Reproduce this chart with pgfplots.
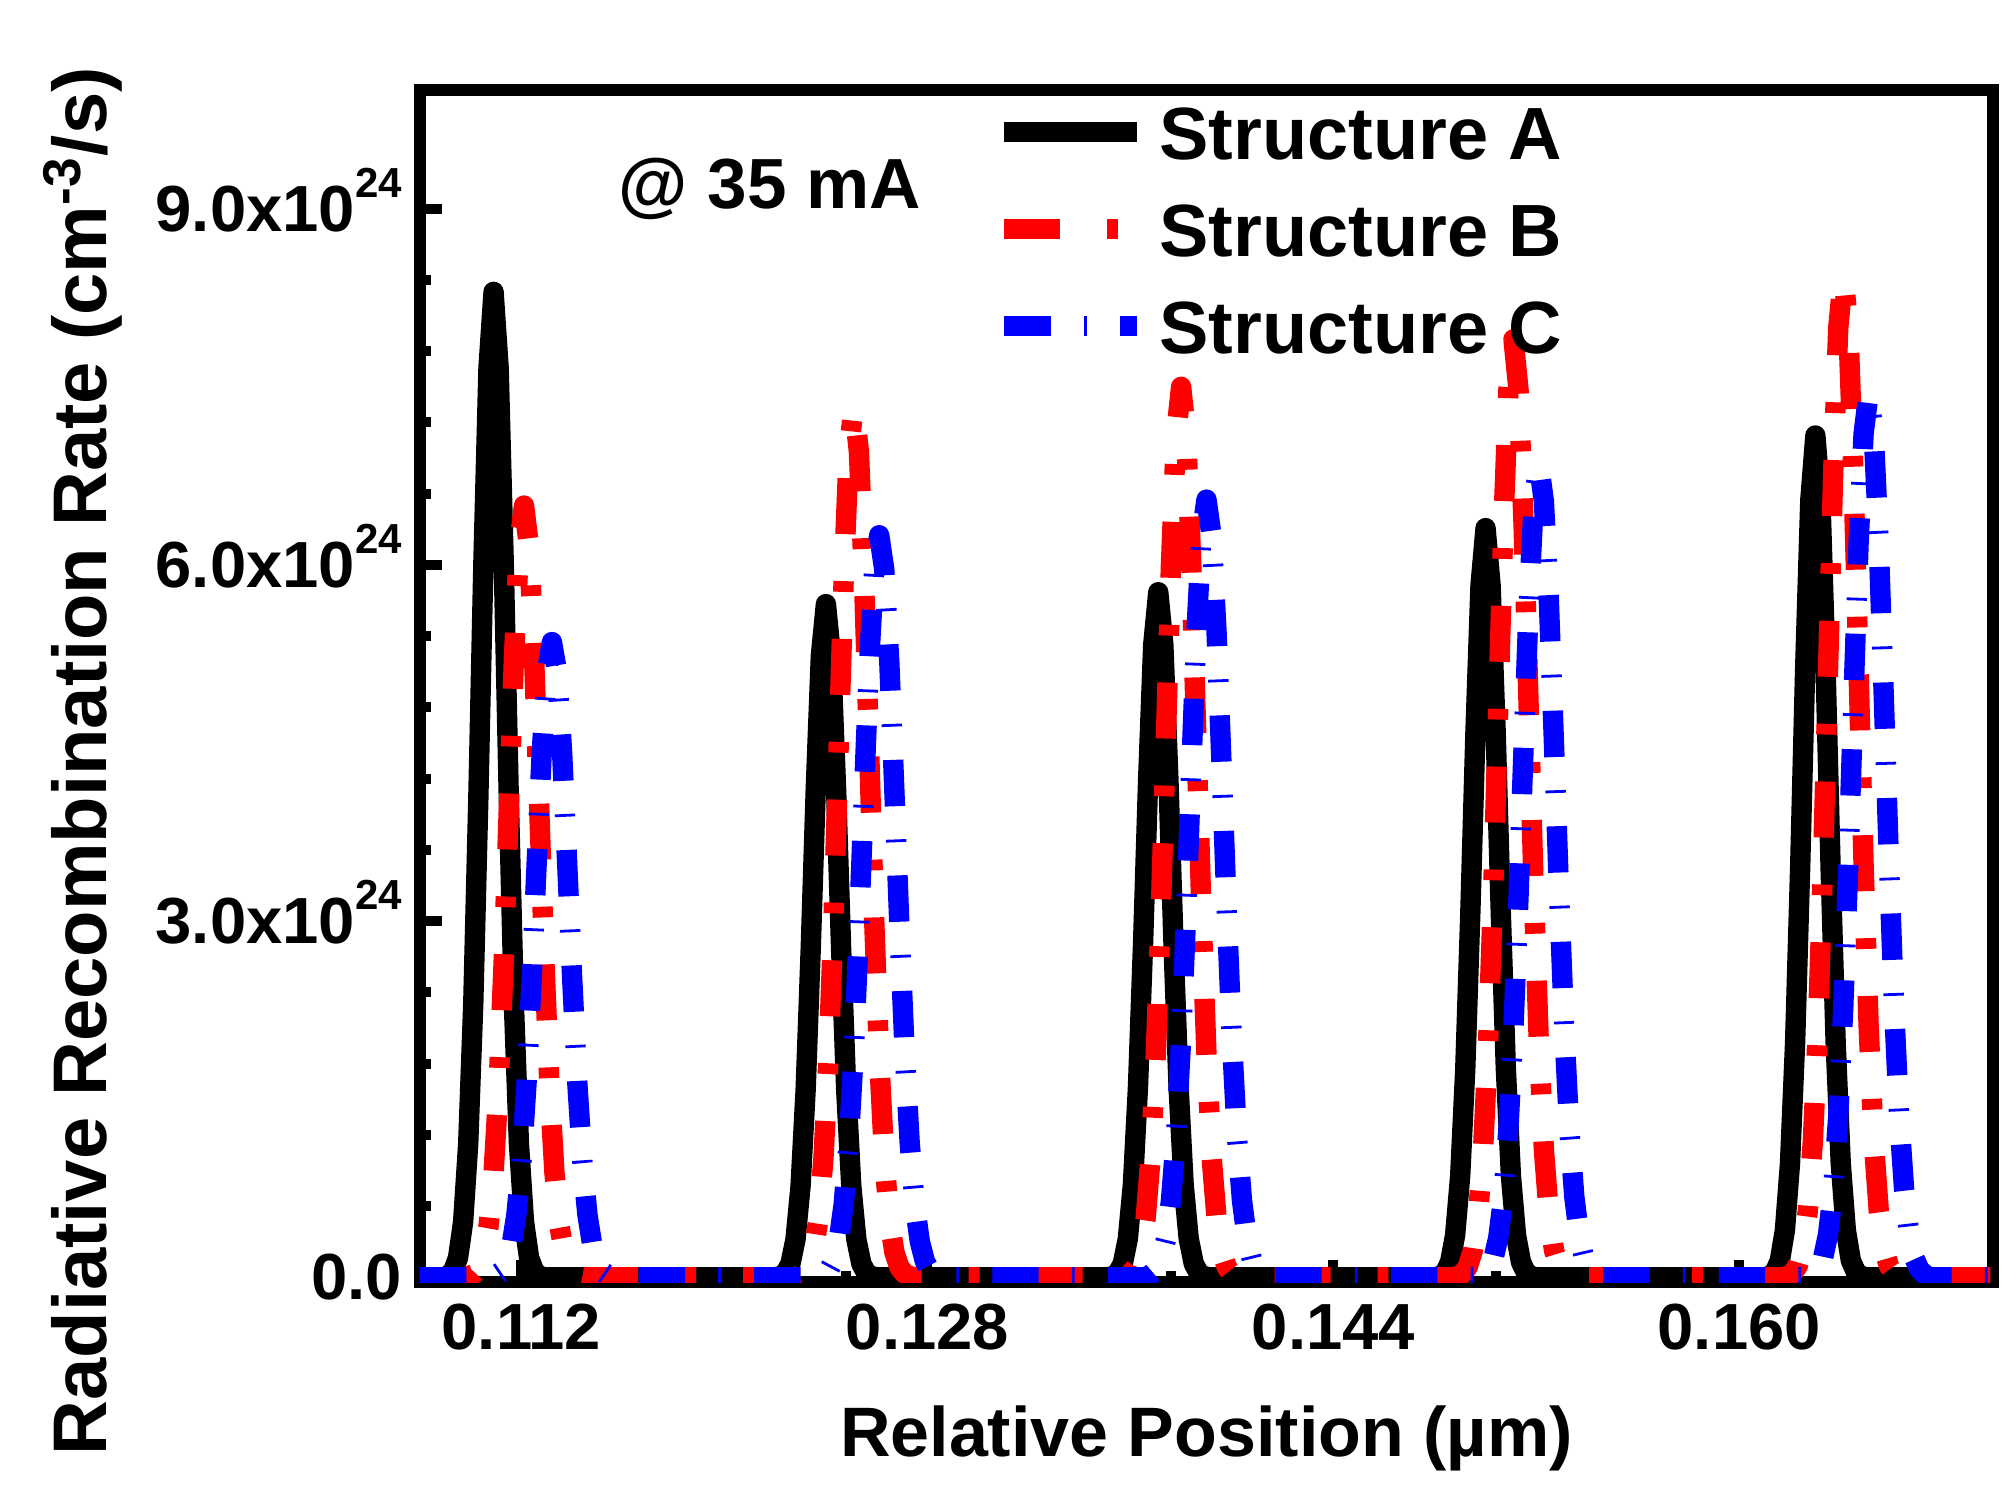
\documentclass[border=0pt]{standalone}
\usepackage{pgfplots}
\pgfplotsset{compat=1.18}
\usepackage{fontspec}
\setmainfont{Liberation Sans}
\definecolor{strB}{RGB}{255,0,0}
\definecolor{strC}{RGB}{0,0,255}

% y values are in units of 1e24 cm^-3/s
\begin{document}
\begin{tikzpicture}
\useasboundingbox (-105pt,-52pt) rectangle (399pt,320.5pt);
\begin{axis}[
    scale only axis,
    width=393.25pt, height=298pt,
    xmin=0.108, xmax=0.170,
    ymin=-0.04, ymax=10,
    xtick={0.112,0.128,0.144,0.160},
    xticklabels={0.112,0.128,0.144,0.160},
    minor x tick num=4,
    ytick={0,3,6,9},
    yticklabels={0.0,
      3.0x10\smash{\raisebox{8.5pt}{\fontsize{10.5}{11}\selectfont 24}},
      6.0x10\smash{\raisebox{8.5pt}{\fontsize{10.5}{11}\selectfont 24}},
      9.0x10\smash{\raisebox{8.5pt}{\fontsize{10.5}{11}\selectfont 24}}},
    minor y tick num=4,
    tick pos=left,
    tick align=inside,
    major tick length=5.5pt,
    minor tick length=2.75pt,
    every tick/.style={line width=2.5pt, black},
    axis line style={line width=3pt},
    tick label style={font=\fontsize{16.3}{16.3}\selectfont\bfseries},
    xticklabel style={yshift=-2pt},
    yticklabel style={xshift=-1pt},
    xlabel={Relative Position (µm)},
    ylabel={Radiative Recombination Rate (cm\textsuperscript{-3}/s)},
    xlabel style={at={(rel axis cs:0.5,-0.1468)}, anchor=base,
      font=\fontsize{17.5}{18}\selectfont\bfseries},
    ylabel style={at={(rel axis cs:-0.1996,0.4367)}, anchor=base,
      font=\fontsize{19}{19}\selectfont\bfseries},
    legend cell align=left,
    legend style={draw=none, fill=none,
      at={(rel axis cs:0.3650,0.9883)}, anchor=north west,
      inner sep=0pt, outer sep=0pt,
      row sep=10.25pt, column sep=3pt,
      font=\fontsize{18.5}{18.5}\selectfont\bfseries,
      nodes={inner sep=0pt, text height=14pt, text depth=0pt}},
    legend image code/.code={\draw[#1] (0pt,0pt) -- (33.25pt,0pt);},
]
% Structure A
\addplot[black, line width=5.1pt, line join=round] coordinates {
(0.1080,0)
(0.1089,0) (0.1091,0.012) (0.1093,0.050) (0.1095,0.164) (0.1097,0.466) (0.1099,1.123)
(0.1101,2.307) (0.1103,4.040) (0.1105,6.027) (0.1107,7.662) (0.1109,8.30) (0.1111,7.662)
(0.1113,6.027) (0.1115,4.040) (0.1117,2.307) (0.1119,1.123) (0.1121,0.466) (0.1123,0.164)
(0.1125,0.050) (0.1127,0.012) (0.1129,0)
(0.1220,0) (0.1222,0.009) (0.1224,0.034) (0.1226,0.112) (0.1228,0.318) (0.1230,0.767)
(0.1232,1.576) (0.1234,2.760) (0.1236,4.117) (0.1238,5.234) (0.1240,5.67) (0.1242,5.234)
(0.1244,4.117) (0.1246,2.760) (0.1248,1.576) (0.1250,0.767) (0.1252,0.318) (0.1254,0.112)
(0.1256,0.034) (0.1258,0.009) (0.1260,0)
(0.1351,0) (0.1353,0.009) (0.1355,0.035) (0.1357,0.114) (0.1359,0.324) (0.1361,0.781)
(0.1363,1.604) (0.1365,2.809) (0.1367,4.190) (0.1369,5.326) (0.1371,5.77) (0.1373,5.326)
(0.1375,4.190) (0.1377,2.809) (0.1379,1.604) (0.1381,0.781) (0.1383,0.324) (0.1385,0.114)
(0.1387,0.035) (0.1389,0.009) (0.1391,0)
(0.1480,0) (0.1482,0.009) (0.1484,0.038) (0.1486,0.125) (0.1488,0.354) (0.1490,0.854)
(0.1492,1.754) (0.1494,3.072) (0.1496,4.582) (0.1498,5.825) (0.1500,6.31) (0.1502,5.825)
(0.1504,4.582) (0.1506,3.072) (0.1508,1.754) (0.1510,0.854) (0.1512,0.354) (0.1514,0.125)
(0.1516,0.038) (0.1518,0.009) (0.1520,0)
(0.1610,0) (0.1612,0.011) (0.1614,0.043) (0.1616,0.140) (0.1618,0.398) (0.1620,0.959)
(0.1622,1.971) (0.1624,3.451) (0.1626,5.148) (0.1628,6.545) (0.1630,7.09) (0.1632,6.545)
(0.1634,5.148) (0.1636,3.451) (0.1638,1.971) (0.1640,0.959) (0.1642,0.398) (0.1644,0.140)
(0.1646,0.043) (0.1648,0.011) (0.1650,0)
(0.1700,0)
};
\addlegendentry{Structure A}

% Structure B
\addplot[strB, line width=5.1pt, line join=round,
  dash pattern=on 14pt off 11.75pt on 2.7pt off 11.75pt] coordinates {
(0.1080,0)
(0.1097,0) (0.1099,0.008) (0.1101,0.025) (0.1103,0.072) (0.1105,0.186) (0.1107,0.427)
(0.1109,0.879) (0.1111,1.621) (0.1113,2.672) (0.1115,3.942) (0.1117,5.205) (0.1119,6.149)
(0.1121,6.50)
(0.1123,6.149) (0.1125,5.205) (0.1127,3.942) (0.1129,2.672) (0.1131,1.621) (0.1133,0.879)
(0.1135,0.427) (0.1137,0.186) (0.1139,0.072) (0.1141,0.025) (0.1143,0.008) (0.1145,0)
(0.1227,0) (0.1229,0.009) (0.1231,0.029) (0.1233,0.082) (0.1235,0.210) (0.1237,0.483)
(0.1239,0.994) (0.1241,1.833) (0.1243,3.022) (0.1245,4.458) (0.1247,5.885) (0.1249,6.953)
(0.1251,7.35)
(0.1253,6.953) (0.1255,5.885) (0.1257,4.458) (0.1259,3.022) (0.1261,1.833) (0.1263,0.994)
(0.1265,0.483) (0.1267,0.210) (0.1269,0.082) (0.1271,0.029) (0.1273,0.009) (0.1275,0)
(0.1356,0) (0.1358,0.009) (0.1360,0.029) (0.1362,0.083) (0.1364,0.215) (0.1366,0.493)
(0.1368,1.015) (0.1370,1.871) (0.1372,3.083) (0.1374,4.549) (0.1376,6.005) (0.1378,7.095)
(0.1380,7.50)
(0.1382,7.095) (0.1384,6.005) (0.1386,4.549) (0.1388,3.083) (0.1390,1.871) (0.1392,1.015)
(0.1394,0.493) (0.1396,0.215) (0.1398,0.083) (0.1400,0.029) (0.1402,0.009) (0.1404,0)
(0.1487,0) (0.1489,0.009) (0.1491,0.031) (0.1493,0.088) (0.1495,0.226) (0.1497,0.519)
(0.1499,1.069) (0.1501,1.970) (0.1503,3.248) (0.1505,4.791) (0.1507,6.326) (0.1509,7.473)
(0.1511,7.90)
(0.1513,7.473) (0.1515,6.326) (0.1517,4.791) (0.1519,3.248) (0.1521,1.970) (0.1523,1.069)
(0.1525,0.519) (0.1527,0.226) (0.1529,0.088) (0.1531,0.031) (0.1533,0.009) (0.1535,0)
(0.1617,0) (0.1619,0.010) (0.1621,0.033) (0.1623,0.094) (0.1625,0.242) (0.1627,0.555)
(0.1629,1.143) (0.1631,2.107) (0.1633,3.474) (0.1635,5.125) (0.1637,6.766) (0.1639,7.994)
(0.1641,8.45)
(0.1643,7.994) (0.1645,6.766) (0.1647,5.125) (0.1649,3.474) (0.1651,2.107) (0.1653,1.143)
(0.1655,0.555) (0.1657,0.242) (0.1659,0.094) (0.1661,0.033) (0.1663,0.010) (0.1665,0)
(0.1700,0)
};
\addlegendentry{Structure B}

% Structure C
\addplot[strC, line width=5.1pt, line join=round,
  dash pattern=on 11.6pt off 8.3pt on 0.7pt off 8.3pt] coordinates {
(0.1080,0)
(0.1108,0) (0.1110,0.018) (0.1112,0.047) (0.1114,0.116) (0.1116,0.258) (0.1118,0.526)
(0.1120,0.973) (0.1122,1.638) (0.1124,2.509) (0.1126,3.494) (0.1128,4.427) (0.1130,5.103)
(0.1132,5.35)
(0.1134,5.103) (0.1136,4.427) (0.1138,3.494) (0.1140,2.509) (0.1142,1.638) (0.1144,0.973)
(0.1146,0.526) (0.1148,0.258) (0.1150,0.116) (0.1152,0.047) (0.1154,0.018) (0.1156,0)
(0.1237,0) (0.1239,0.021) (0.1241,0.055) (0.1243,0.135) (0.1245,0.302) (0.1247,0.614)
(0.1249,1.137) (0.1251,1.914) (0.1253,2.931) (0.1255,4.082) (0.1257,5.172) (0.1259,5.961)
(0.1261,6.25)
(0.1263,5.961) (0.1265,5.172) (0.1267,4.082) (0.1269,2.931) (0.1271,1.914) (0.1273,1.137)
(0.1275,0.614) (0.1277,0.302) (0.1279,0.135) (0.1281,0.055) (0.1283,0.021) (0.1285,0)
(0.1366,0) (0.1368,0.022) (0.1370,0.058) (0.1372,0.141) (0.1374,0.316) (0.1376,0.644)
(0.1378,1.191) (0.1380,2.006) (0.1382,3.071) (0.1384,4.278) (0.1386,5.420) (0.1388,6.247)
(0.1390,6.55)
(0.1392,6.247) (0.1394,5.420) (0.1396,4.278) (0.1398,3.071) (0.1400,2.006) (0.1402,1.191)
(0.1404,0.644) (0.1406,0.316) (0.1408,0.141) (0.1410,0.058) (0.1412,0.022) (0.1414,0)
(0.1497,0) (0.1499,0.023) (0.1501,0.060) (0.1503,0.148) (0.1505,0.331) (0.1507,0.673)
(0.1509,1.246) (0.1511,2.097) (0.1513,3.212) (0.1515,4.474) (0.1517,5.668) (0.1519,6.534)
(0.1521,6.85)
(0.1523,6.534) (0.1525,5.668) (0.1527,4.474) (0.1529,3.212) (0.1531,2.097) (0.1533,1.246)
(0.1535,0.673) (0.1537,0.331) (0.1539,0.148) (0.1541,0.060) (0.1543,0.023) (0.1545,0)
(0.1627,0) (0.1629,0.025) (0.1631,0.066) (0.1633,0.161) (0.1635,0.360) (0.1637,0.732)
(0.1639,1.355) (0.1641,2.281) (0.1643,3.493) (0.1645,4.866) (0.1647,6.165) (0.1649,7.106)
(0.1651,7.45)
(0.1653,7.106) (0.1655,6.165) (0.1657,4.866) (0.1659,3.493) (0.1661,2.281) (0.1663,1.355)
(0.1665,0.732) (0.1667,0.360) (0.1669,0.161) (0.1671,0.066) (0.1673,0.025) (0.1675,0)
(0.1700,0)
};
\addlegendentry{Structure C}

\node[anchor=base west, inner sep=0pt,
  font=\fontsize{17.75}{18}\selectfont\bfseries] at (rel axis cs:0.1259,0.901) {@ 35 mA};
\end{axis}
\end{tikzpicture}
\end{document}
